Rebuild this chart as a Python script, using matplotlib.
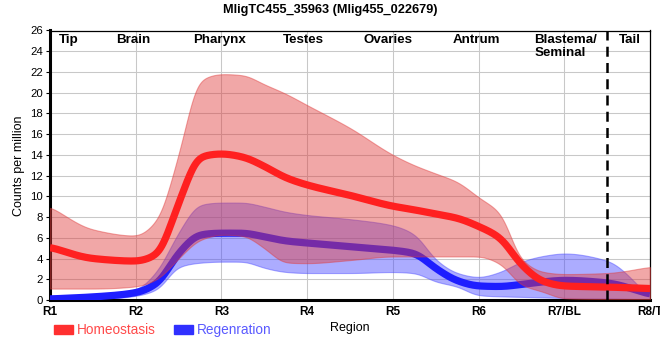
import numpy as np
import matplotlib
matplotlib.use("Agg")
import matplotlib.pyplot as plt
from matplotlib.patches import Patch

plt.rcParams['font.family'] = ['Liberation Sans', 'DejaVu Sans']

# region labels on the x axis and sample positions
tick_labels = ['R1', 'R2', 'R3', 'R4', 'R5', 'R6', 'R7/BL', 'R8/T']
positions = [1, 1.5, 2, 2.25, 2.5, 2.75, 3, 3.25, 3.5, 3.75, 4, 4.5, 5,
             5.25, 5.5, 5.75, 6, 6.25, 6.5, 6.75, 7, 7.5, 8]

# Homeostasis (red)
homeo_mid = [5.1, 4.0, 3.75, 4.4, 9.3, 13.8, 14.1, 13.8, 12.9, 11.8, 11.1, 10.1, 9.05,
             8.7, 8.3, 7.9, 7.1, 6.0, 3.4, 1.8, 1.35, 1.25, 1.1]
homeo_hi = [9.0, 6.8, 6.2, 7.7, 14.0, 21.2, 21.8, 21.7, 20.8, 19.9, 18.8, 16.6, 14.0,
            13.0, 12.2, 11.4, 9.9, 8.4, 3.9, 2.7, 2.5, 2.6, 3.2]
homeo_lo = [1.1, 1.1, 1.3, 2.0, 4.0, 5.8, 6.3, 6.2, 5.0, 3.6, 3.55, 3.85, 4.2,
            4.2, 4.2, 4.2, 4.2, 3.5, 1.45, 0.8, 0.15, 0.1, 0.1]

# Regeneration (blue)
regen_mid = [0.1, 0.3, 0.7, 1.6, 4.5, 6.3, 6.45, 6.45, 6.1, 5.7, 5.5, 5.15, 4.8,
             4.5, 3.05, 1.86, 1.35, 1.3, 1.5, 1.75, 1.9, 1.65, 0.55]
regen_hi = [0.35, 0.55, 1.0, 2.8, 6.5, 9.2, 9.4, 9.4, 9.0, 8.5, 8.2, 7.8, 7.2,
            6.35, 3.9, 2.6, 2.2, 2.7, 3.7, 4.25, 4.5, 3.8, 0.3]
regen_lo = [0.0, 0.05, 0.4, 1.0, 3.2, 3.6, 3.7, 3.7, 3.1, 2.7, 2.6, 2.6, 2.7,
            2.6, 1.77, 1.3, 0.45, 0.35, 0.3, 0.25, 0.2, 0.15, 0.05]

# anatomy labels along the top
anatomy = ['Tip', 'Brain', 'Pharynx', 'Testes', 'Ovaries', 'Antrum', 'Blastema/\nSeminal', 'Tail']
anatomy_x = [1.22, 1.97, 2.98, 3.96, 4.94, 5.98, 6.65, 7.77]


def pchip(x, y, xs):
    # monotone cubic interpolation (Fritsch-Carlson)
    x = np.asarray(x, float)
    y = np.asarray(y, float)
    h = np.diff(x)
    d = np.diff(y) / h
    n = len(x)
    m = np.zeros(n)
    for k in range(1, n - 1):
        if d[k - 1] * d[k] > 0:
            w1 = 2 * h[k] + h[k - 1]
            w2 = h[k] + 2 * h[k - 1]
            m[k] = (w1 + w2) / (w1 / d[k - 1] + w2 / d[k])
    m[0] = d[0]
    m[-1] = d[-1]
    idx = np.clip(np.searchsorted(x, xs) - 1, 0, n - 2)
    t = (xs - x[idx]) / h[idx]
    h00 = 2 * t**3 - 3 * t**2 + 1
    h10 = t**3 - 2 * t**2 + t
    h01 = -2 * t**3 + 3 * t**2
    h11 = t**3 - t**2
    return h00 * y[idx] + h10 * h[idx] * m[idx] + h01 * y[idx + 1] + h11 * h[idx] * m[idx + 1]


xs = np.linspace(1, 8, 801)
dx = xs[1] - xs[0]


def curve(vals, sigma=0.06):
    # pchip through the points, then round off the corners a little
    ys = pchip(positions, vals, xs)
    half = int(4 * sigma / dx)
    k = np.exp(-0.5 * (np.arange(-half, half + 1) * dx / sigma) ** 2)
    k /= k.sum()
    padded = np.concatenate([np.full(half, ys[0]), ys, np.full(half, ys[-1])])
    return np.convolve(padded, k, mode='valid')


fig = plt.figure(figsize=(6.6, 3.6), dpi=100)
ax = fig.add_axes([50 / 660, 60 / 360, 600 / 660, 269.5 / 360])

# blue band + line first, red band over it, red line on top
ax.fill_between(xs, curve(regen_lo), curve(regen_hi),
                color='#4848ff', alpha=0.45, lw=0.8, edgecolor='#4848ff', zorder=2)
ax.plot(xs, curve(regen_mid), color='#1e1eff', lw=5.2, zorder=3, solid_capstyle='butt')
ax.fill_between(xs, curve(homeo_lo), curve(homeo_hi),
                color='#e03c3c', alpha=0.45, lw=0.8, edgecolor='#e03c3c', zorder=4)
ax.plot(xs, curve(homeo_mid), color='#ff2020', lw=5.2, zorder=5, solid_capstyle='butt')

ax.axvline(7.5, color='black', lw=1.8, ls=(0, (4, 2.5)), zorder=6)

ax.set_xlim(1, 8)
ax.set_ylim(0, 26)
ax.set_xticks(range(1, 9))
ax.set_xticklabels(tick_labels, fontweight='bold', fontsize=8.5)
ax.set_yticks(range(0, 27, 2))
ax.tick_params(axis='x', length=0, pad=4)
ax.tick_params(axis='y', length=3, width=0.8, labelsize=8.2, pad=2)
ax.grid(True, color='#c8c8c8', lw=0.75, zorder=0)
ax.set_axisbelow(True)

for side in ['left', 'bottom']:
    ax.spines[side].set_linewidth(2.2)
for side in ['top', 'right']:
    ax.spines[side].set_linewidth(0.9)

for label, xpos in zip(anatomy, anatomy_x):
    ha = 'left' if '\n' in label else 'center'
    ax.text(xpos, 25.7, label, ha=ha, va='top', fontsize=9.6, fontweight='bold',
            linespacing=1.1, zorder=7)

ax.set_ylabel('Counts per million', fontsize=9, labelpad=4)
ax.set_xlabel('Region', fontsize=9, labelpad=3)
fig.text(0.5, 0.972, 'MligTC455_35963 (Mlig455_022679)', ha='center', va='center',
         fontsize=9.2, fontweight='bold')

handles = [Patch(color='#ff3030'), Patch(color='#3030ff')]
leg = fig.legend(handles, ['Homeostasis', 'Regenration'], loc='center left',
                 bbox_to_anchor=(54 / 660, 1 - 330 / 360), ncol=2, frameon=False,
                 fontsize=9.8, handlelength=1.4, handleheight=0.6, handletextpad=0.3,
                 columnspacing=1.3, borderaxespad=0, borderpad=0)
leg.get_texts()[0].set_color('#ff4a4a')
leg.get_texts()[1].set_color('#5a5aff')

fig.savefig('out.png', dpi=100)
